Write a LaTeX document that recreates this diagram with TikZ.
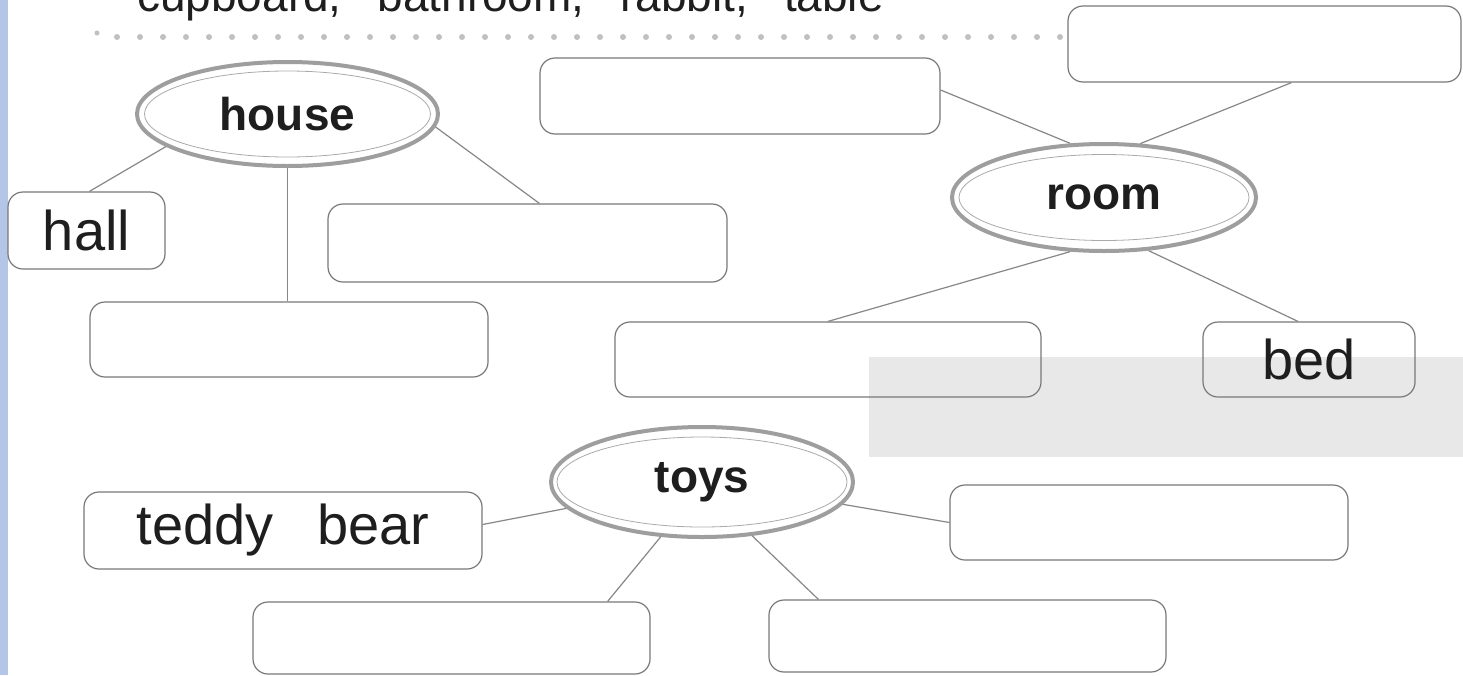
\documentclass[tikz,border=0pt]{standalone}
\usepackage{fontspec}
\setmainfont{Liberation Sans}
\newfontfamily\handfont[WordSpace=2.8]{Liberation Sans}
\usetikzlibrary{shapes.geometric,calc}
\definecolor{stripblue}{RGB}{180,198,231}
\definecolor{boxgray}{RGB}{120,120,120}
\definecolor{linegray}{RGB}{135,135,135}
\definecolor{rimgray}{RGB}{158,158,158}
\definecolor{innergray}{RGB}{170,170,170}
\definecolor{dotgray}{RGB}{192,192,192}
\definecolor{ink}{RGB}{30,30,30}
\definecolor{paleshade}{RGB}{232,232,232}
\begin{document}
\begin{tikzpicture}[x=1pt,y=-1pt,
  box/.style={draw=boxgray, line width=1.2pt, rounded corners=15pt, inner sep=0pt,
              text=ink, font=\handfont\fontsize{56}{60}\selectfont},
  hub/.style={ellipse, draw=rimgray, line width=4pt, inner sep=0pt,
              text=ink, font=\fontsize{46}{50}\selectfont\bfseries},
  innerrim/.style={draw=innergray, line width=0.8pt},
  conn/.style={draw=linegray, line width=1.2pt}]
\useasboundingbox (0,0) rectangle (1463,675);
\clip (0,0) rectangle (1463,675);
\fill[white] (0,0) rectangle (1463,675);
\fill[stripblue] (0,0) rectangle (8,675);
\fill[paleshade] (869,357) rectangle (1463,457);

% top word list (cut off at the top edge, as in the reference)
\node[anchor=base west, inner sep=0pt, text=ink, font=\handfont\fontsize{46}{50}\selectfont]
  (wordlist) at (137,11) {cupboard, bathroom, rabbit, table};

% dotted separator
\foreach \i in {0,...,41} \fill[dotgray] (117+23*\i,37) circle (3pt);
\fill[dotgray] (97,33) circle (2.5pt);

% hubs
\node[hub, minimum width=301pt, minimum height=104pt] (house) at (287.5,114) {house};
\draw[innerrim] (house.center) ellipse [x radius=143pt, y radius=43pt];
\node[hub, minimum width=304pt, minimum height=107pt] (room) at (1104,197.5) {room};
\draw[innerrim] (room.center) ellipse [x radius=145pt, y radius=43pt];
\node[hub, minimum width=302pt, minimum height=110pt] (toys) at (702,482) {toys};
\draw[innerrim] (toys.center) ellipse [x radius=145pt, y radius=45pt];

% boxes
\node[box, minimum width=157pt, minimum height=77pt] (hall) at (86.5,230.5) {hall};
\node[box, minimum width=398pt, minimum height=75pt] (houseB) at (289,339.5) {};
\node[box, minimum width=399pt, minimum height=78pt] (houseR) at (527.5,243) {};
\node[box, minimum width=400pt, minimum height=76pt] (topM) at (740,96) {};
\node[box, minimum width=393pt, minimum height=76pt] (topR) at (1264.5,44) {};
\node[box, minimum width=426pt, minimum height=75pt] (roomL) at (828,359.5) {};
\node[box, minimum width=212pt, minimum height=75pt] (bed) at (1309,359.5) {bed};
\node[box, minimum width=398pt, minimum height=77pt] (teddy) at (283,530.5) {teddy bear};
\node[box, minimum width=398pt, minimum height=75pt] (toysR) at (1149,522.5) {};
\node[box, minimum width=397pt, minimum height=72pt] (toysBL) at (451.5,638) {};
\node[box, minimum width=397pt, minimum height=72pt] (toysBR) at (967.5,636) {};

% connectors
\draw[conn] (house.195) -- ($(hall.north west)+(82,0)$);
\draw[conn] (house.south) -- (house.south |- houseB.north);
\draw[conn] (house.355) -- ($(houseR.north west)+(212,0)$);
\draw[conn] (room.122) -- ($(topM.east)+(0,-6)$);
\draw[conn] (room.56) -- ($(topR.south)+(27,0)$);
\draw[conn] (room.238) -- (roomL.north);
\draw[conn] (room.310) -- ($(bed.north)+(-11,0)$);
\draw[conn] (toys.191) -- ($(teddy.east)+(0,-6)$);
\draw[conn] (toys.233) -- ($(toysBL.north east)+(-43,0)$);
\draw[conn] (toys.313) -- ($(toysBR.north west)+(50,0)$);
\draw[conn] (toys.351) -- (toysR.west);
\end{tikzpicture}
\end{document}
